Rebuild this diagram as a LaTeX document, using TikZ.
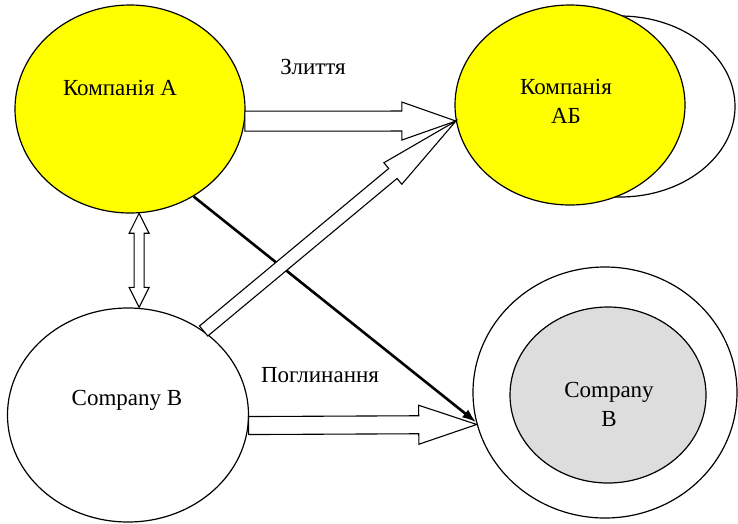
\documentclass[tikz,border=0pt]{standalone}
\usepackage{fontspec}
\setmainfont{Liberation Serif}
\usetikzlibrary{shapes.geometric,calc,arrows.meta}

% hollow block arrow: tail, tip, shaft half width, head half width, head length
\newcommand\blockarrow[5]{%
  \coordinate (ba-h) at ($(#2)!#5!(#1)$);
  \draw[block] ($(#1)!#3!90:(#2)$) -- ($(ba-h)!#3!90:(#2)$) -- ($(ba-h)!#4!90:(#2)$)
    -- (#2) -- ($(ba-h)!#4!-90:(#2)$) -- ($(ba-h)!#3!-90:(#2)$) -- ($(#1)!#3!-90:(#2)$) -- cycle;}

% hollow block arrow with a head at both ends
\newcommand\dblockarrow[5]{%
  \coordinate (ba-a) at ($(#1)!#5!(#2)$);
  \coordinate (ba-b) at ($(#2)!#5!(#1)$);
  \draw[block] (#1) -- ($(ba-a)!#4!90:(#2)$) -- ($(ba-a)!#3!90:(#2)$) -- ($(ba-b)!#3!90:(#2)$)
    -- ($(ba-b)!#4!90:(#2)$) -- (#2) -- ($(ba-b)!#4!-90:(#2)$) -- ($(ba-b)!#3!-90:(#2)$)
    -- ($(ba-a)!#3!-90:(#2)$) -- ($(ba-a)!#4!-90:(#2)$) -- cycle;}

\definecolor{cyellow}{RGB}{255,255,0}
\definecolor{innergray}{HTML}{DDDDDD}

\begin{document}
\begin{tikzpicture}[x=1pt,y=-1pt,
  company/.style={ellipse, draw=black, line width=1.2pt, fill=white, inner sep=0pt},
  block/.style={draw=black, line width=1.1pt, fill=white, line join=miter},
  lbl/.style={font=\rmfamily\fontsize{23}{28.5}\selectfont, inner sep=0pt, align=center},
  takeover/.style={line width=2.6pt, -{Latex[length=14pt,width=10pt]}}]
  \useasboundingbox (0,0) rectangle (738,523);

  % companies
  \node[company, fill=cyellow, minimum width=230pt, minimum height=208pt] (A) at (130,109) {};
  \node[company, minimum width=230pt, minimum height=181pt] (ABback) at (620,106.5) {};
  \node[company, fill=cyellow, minimum width=230pt, minimum height=200pt] (AB) at (570,105) {};
  \node[company, minimum width=241pt, minimum height=214pt] (B) at (128,415) {};
  \node[company, minimum width=264pt, minimum height=251pt] (O) at (605,392.5) {};
  \node[company, fill=innergray, minimum width=196pt, minimum height=176pt] (Bin) at (608,395) {};

  % labels
  \node[lbl, anchor=base] (tA) at (120,95) {Компанія А};
  \node[lbl] (tAB) at (566,101.5) {Компанія\\АБ};
  \node[lbl, anchor=base] (tB) at (127,405) {Company B};
  \node[lbl] (tBin) at (609,404.5) {Company\\B};
  \node[lbl, anchor=base] (tMerge) at (313,74) {Злиття};
  \node[lbl, anchor=base] (tTake) at (320,382) {Поглинання};

  % takeover line
  \draw[takeover] (A.-54) -- (O.193);

  % block arrows
  \blockarrow{A.-6}{AB.188}{10pt}{19pt}{54pt}
  \blockarrow{B.48}{AB.188}{6.5pt}{14pt}{82pt}
  \blockarrow{B.-5}{O.194}{9pt}{19.5pt}{58pt}
  \dblockarrow{A.-85}{A.-85 |- B.north}{5pt}{10pt}{20pt}
\end{tikzpicture}
\end{document}
